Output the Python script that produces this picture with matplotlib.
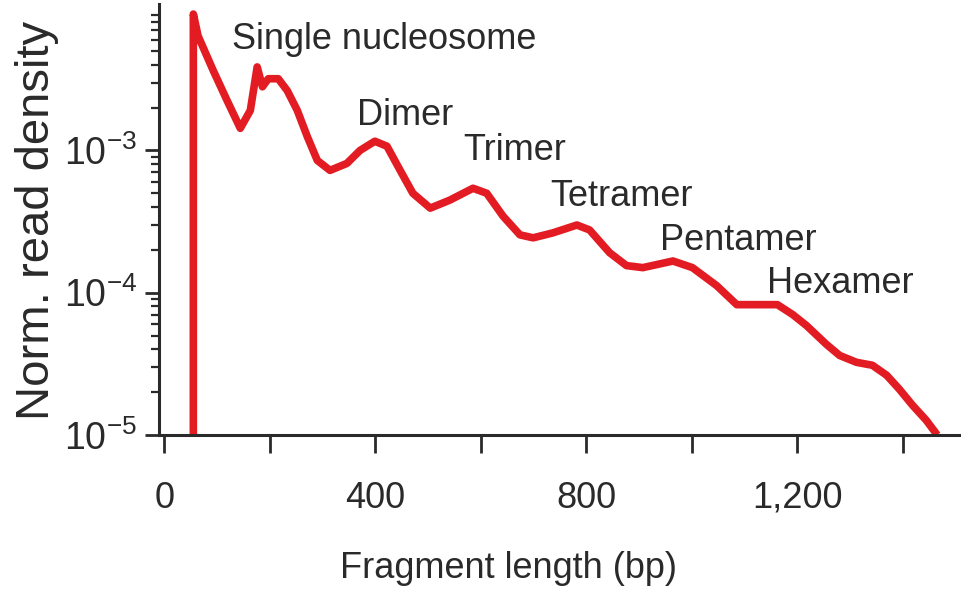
import numpy as np
import matplotlib
matplotlib.use("Agg")
import matplotlib.pyplot as plt
from matplotlib import font_manager

# ── font: narrow Helvetica look if available ────────────────────────────
names = {f.name for f in font_manager.fontManager.ttflist}
FONT = "Liberation Sans Narrow" if "Liberation Sans Narrow" in names else "Liberation Sans"
plt.rcParams["font.family"] = [FONT, "DejaVu Sans"]
plt.rcParams["mathtext.fontset"] = "custom"
plt.rcParams["mathtext.rm"] = FONT
plt.rcParams["mathtext.it"] = FONT
plt.rcParams["mathtext.bf"] = FONT

# ── data ────────────────────────────────────────────────────────────────
frag_len = [55, 55, 64, 93, 119, 144, 163, 176, 186, 197, 216, 233, 252,
            271, 290, 314, 346, 371, 399, 422, 447, 471, 504, 541, 585,
            611, 642, 674, 699, 736, 782, 806, 844, 876, 907, 964, 1001,
            1047, 1085, 1128, 1162, 1191, 1217, 1255, 1280, 1312, 1342,
            1369, 1393, 1418, 1444, 1465]
density = [1.0e-5, 9.08e-3, 6.37e-3, 3.62e-3, 2.24e-3, 1.43e-3, 1.91e-3,
           3.86e-3, 2.80e-3, 3.19e-3, 3.19e-3, 2.63e-3, 1.91e-3, 1.25e-3,
           8.5e-4, 7.24e-4, 8.1e-4, 1.0e-3, 1.16e-3, 1.07e-3, 7.24e-4,
           5.0e-4, 3.93e-4, 4.47e-4, 5.42e-4, 5.0e-4, 3.45e-4, 2.55e-4,
           2.43e-4, 2.63e-4, 2.99e-4, 2.76e-4, 1.91e-4, 1.55e-4, 1.50e-4,
           1.67e-4, 1.50e-4, 1.12e-4, 8.24e-5, 8.24e-5, 8.24e-5, 7.02e-5,
           5.88e-5, 4.33e-5, 3.62e-5, 3.24e-5, 3.09e-5, 2.63e-5, 2.10e-5,
           1.62e-5, 1.27e-5, 1.0e-5]

peak_labels = ["Single nucleosome", "Dimer", "Trimer", "Tetramer",
               "Pentamer", "Hexamer"]
label_x = [129, 365, 566, 731, 939, 1143]
label_y = [5.16e-3, 1.52e-3, 8.5e-4, 4.06e-4, 2.0e-4, 1.0e-4]

x_ticks = [0, 200, 400, 600, 800, 1000, 1200, 1400]
x_ticklabels = ["0", "", "400", "", "800", "", "1,200", ""]
y_ticks = [1e-5, 1e-4, 1e-3]
y_ticklabels = [r"$10^{-5}$", r"$10^{-4}$", r"$10^{-3}$"]

RED = "#e31b23"
INK = "#2a2a2a"

fig = plt.figure(figsize=(9.61, 5.97), dpi=100)
ax = fig.add_axes([0.1655, 0.2714, 0.8345, 0.722])

ax.plot(frag_len, density, color=RED, lw=5.5, solid_joinstyle="round",
        solid_capstyle="butt")

ax.set_yscale("log")
ax.set_ylim(1e-5, 1.07e-2)
ax.set_xlim(-10, 1510)

ax.set_xticks(x_ticks)
ax.set_xticklabels(x_ticklabels)
ax.set_yticks(y_ticks)
ax.set_yticklabels(y_ticklabels)
ax.yaxis.set_minor_locator(matplotlib.ticker.LogLocator(base=10, subs=np.arange(2, 10)))
ax.yaxis.set_minor_formatter(matplotlib.ticker.NullFormatter())

for s in ["top", "right"]:
    ax.spines[s].set_visible(False)
for s in ["left", "bottom"]:
    ax.spines[s].set_linewidth(2.2)
    ax.spines[s].set_color(INK)

ax.tick_params(axis="x", which="major", length=13, width=2, color=INK,
               labelsize=26, labelcolor=INK, pad=20)
ax.tick_params(axis="y", which="major", length=10, width=2, color=INK,
               labelsize=27, labelcolor=INK, pad=6)
ax.tick_params(axis="y", which="minor", length=6, width=1.6, color=INK)

for txt, lx, ly in zip(peak_labels, label_x, label_y):
    ax.text(lx, ly, txt, fontsize=26, color=INK, ha="left", va="baseline")

fig.text(37 / 961, 1 - 220 / 597, "Norm. read density", rotation=90,
         ha="center", va="center", fontsize=34, color=INK)
fig.text(508 / 961, 1 - 578 / 597, "Fragment length (bp)",
         ha="center", va="baseline", fontsize=26, color=INK)

plt.savefig("out.png", dpi=100)
plt.close()
